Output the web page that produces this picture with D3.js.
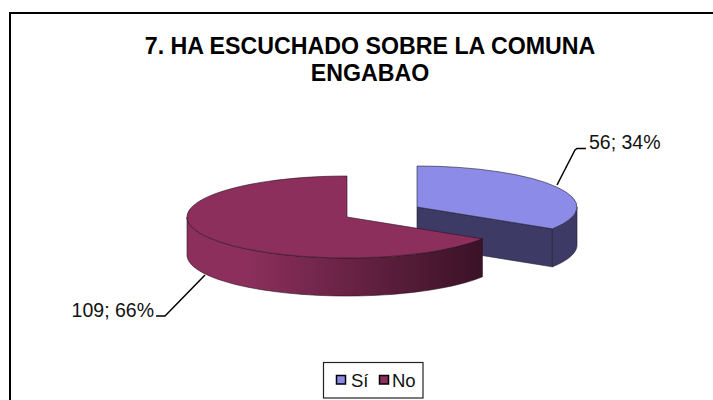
<!DOCTYPE html>
<html><head><meta charset="utf-8">
<script src="https://cdnjs.cloudflare.com/ajax/libs/d3/7.8.5/d3.min.js"></script>
<style>html,body{margin:0;padding:0;background:#fff}svg{display:block}</style>
</head><body><svg id="c" width="713" height="400"></svg>
<script>
const categories = ["Sí", "No"];
const values = [56, 109];
const percents = ["34%", "66%"];
const titleLines = ["7. HA ESCUCHADO SOBRE LA COMUNA", "ENGABAO"];
const topColors = ["#8c8ce8", "#8c2f5c"];
const wallColors = ["#3d3b66", "#8c2f5c"];

const svg = d3.select("#c");
const F = "'Liberation Sans', Arial, sans-serif";
const rx = 160, ry = 41, depth = 38;
const centers = [[417, 207], [347, 217]];

svg.append("rect").attr("x", 10).attr("y", 13).attr("width", 760).attr("height", 440)
  .attr("fill", "#fff").attr("stroke", "#000").attr("stroke-width", 2);

svg.selectAll("text.t").data(titleLines).join("text").attr("class", "t")
  .attr("x", 370).attr("y", (d, i) => 54 + i * 27)
  .attr("text-anchor", "middle").attr("font-family", F).attr("font-weight", "bold")
  .attr("font-size", 23.2).attr("fill", "#000").text(d => d);

const arcs = d3.pie().sort(null).startAngle(0).endAngle(2 * Math.PI)(values);
const px = (c, a) => c[0] + rx * Math.sin(a);
const py = (c, a, dz = 0) => c[1] - ry * Math.cos(a) + dz;

const defs = svg.append("defs");
const g = defs.append("linearGradient").attr("id", "wall").attr("gradientUnits", "userSpaceOnUse")
  .attr("x1", 187).attr("x2", 482).attr("y1", 0).attr("y2", 0);
[[0, "#8c2f5c"], [0.2, "#8c2f5c"], [1, "#3a1226"]].forEach(s =>
  g.append("stop").attr("offset", s[0]).attr("stop-color", s[1]));

function wall(c, a0, a1) {
  const N = 60, pts = [];
  for (let i = 0; i <= N; i++) { const a = a0 + (a1 - a0) * i / N; pts.push([px(c, a), py(c, a)]); }
  for (let i = N; i >= 0; i--) { const a = a0 + (a1 - a0) * i / N; pts.push([px(c, a), py(c, a, depth)]); }
  return d3.line()(pts) + "Z";
}
const edge = "#1c1c2c";

// Sí slice: cut face, outer wall, top
const cS = centers[0], aS = arcs[0];
svg.append("path").attr("fill", wallColors[0]).attr("stroke", edge).attr("stroke-width", 0.6)
  .attr("d", d3.line()([[cS[0], cS[1]], [px(cS, aS.endAngle), py(cS, aS.endAngle)],
    [px(cS, aS.endAngle), py(cS, aS.endAngle, depth)], [cS[0], cS[1] + depth]]) + "Z");
svg.append("path").attr("fill", wallColors[0]).attr("stroke", edge).attr("stroke-width", 0.6)
  .attr("d", wall(cS, Math.PI / 2, aS.endAngle));

// No slice: outer wall
const cN = centers[1], aN = arcs[1];
svg.append("path").attr("fill", "url(#wall)").attr("stroke", "#2a1020").attr("stroke-width", 0.6)
  .attr("d", wall(cN, aN.startAngle, 1.5 * Math.PI));

// top faces
const arc = d3.arc().innerRadius(0).outerRadius(rx);
arcs.forEach((d, i) => {
  svg.append("g").attr("transform", `translate(${centers[i]}) scale(1,${ry / rx})`)
    .append("path").attr("d", arc(d)).attr("fill", topColors[i])
    .attr("stroke", i ? "#2a1020" : edge).attr("stroke-width", 0.6)
    .attr("vector-effect", "non-scaling-stroke");
});

// leaders + labels
const leaders = [d3.path(), d3.path()];
leaders[0].moveTo(557, 185); leaders[0].lineTo(575, 150); leaders[0].lineTo(577, 148.5); leaders[0].lineTo(586, 148.5);
leaders[1].moveTo(205, 275); leaders[1].lineTo(166, 315); leaders[1].lineTo(165, 316); leaders[1].lineTo(156, 316);
leaders.forEach(p => svg.append("path").attr("d", p.toString()).attr("fill", "none")
  .attr("stroke", "#000").attr("stroke-width", 1.5));
const labelX = [589, 154], labelY = [149, 317], anchors = ["start", "end"];
values.forEach((v, i) => svg.append("text").attr("x", labelX[i]).attr("y", labelY[i])
  .attr("text-anchor", anchors[i]).attr("font-family", F).attr("font-size", 19.5)
  .attr("fill", "#111").text(`${v}; ${percents[i]}`));

// legend
svg.append("rect").attr("x", 323.5).attr("y", 362.5).attr("width", 99.5).attr("height", 35.5)
  .attr("fill", "#fff").attr("stroke", "#222").attr("stroke-width", 1.2);
const lx = [336.5, 379.5], tx = [351, 392];
categories.forEach((c, i) => {
  svg.append("rect").attr("x", lx[i]).attr("y", 375.5).attr("width", 9).attr("height", 8.5)
    .attr("fill", topColors[i]).attr("stroke", "#000").attr("stroke-width", 1.5);
  svg.append("text").attr("x", tx[i]).attr("y", 387).attr("font-family", F).attr("font-size", 18.5)
    .attr("fill", "#111").text(c);
});
</script></body></html>
